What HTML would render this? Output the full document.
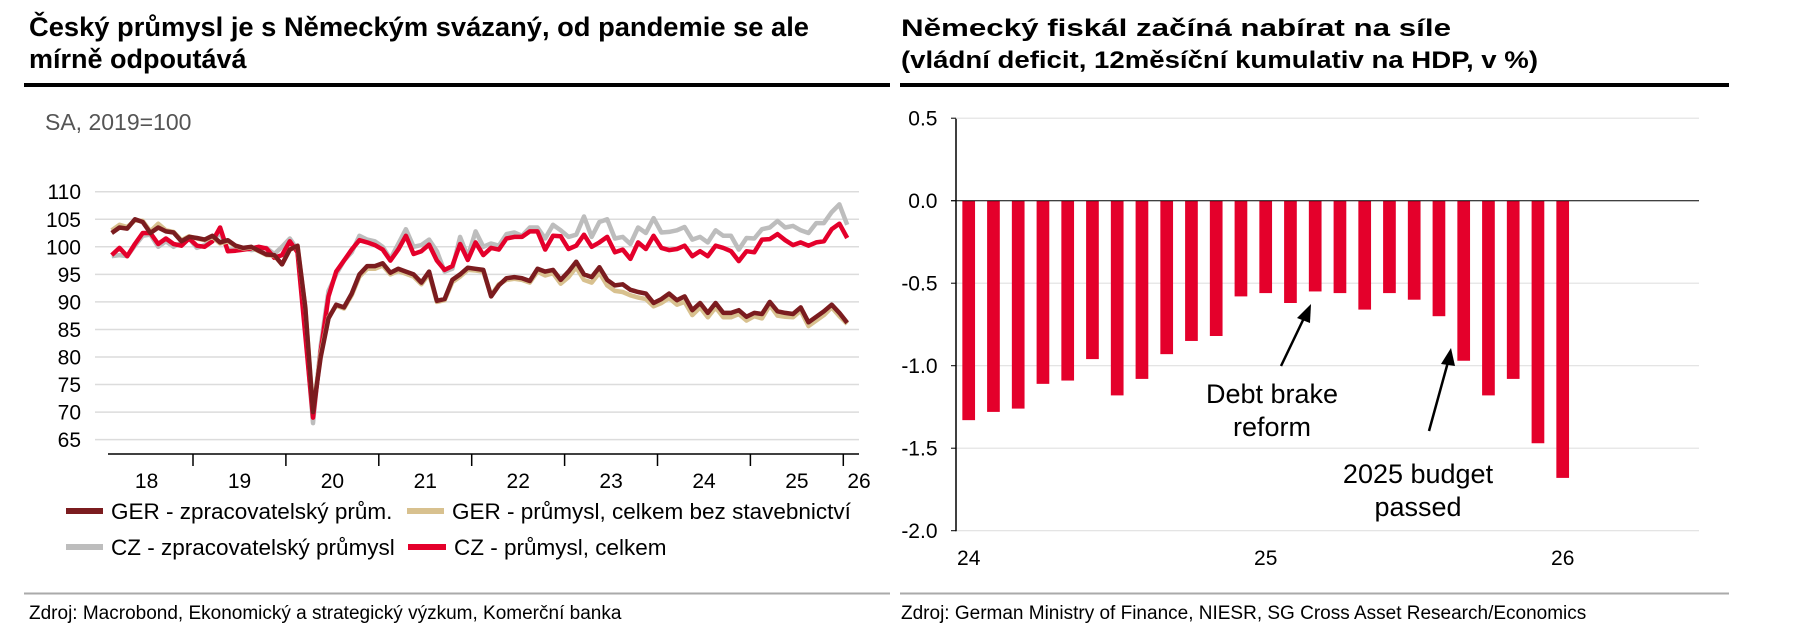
<!DOCTYPE html>
<html><head><meta charset="utf-8"><style>
body{margin:0;background:#fff;}
svg{display:block;font-family:"Liberation Sans",Arial,sans-serif;}
</style></head><body>
<svg id="s" width="1800" height="639" viewBox="0 0 1800 639" xmlns="http://www.w3.org/2000/svg">
<text x="29" y="36" font-size="27" font-weight="bold" fill="#000" textLength="780" lengthAdjust="spacingAndGlyphs">Český průmysl je s Německým svázaný, od pandemie se ale</text>
<text x="29" y="68" font-size="27" font-weight="bold" fill="#000">mírně odpoutává</text>
<rect x="24" y="83" width="866" height="4" fill="#000"/>
<text x="45" y="130" font-size="23" fill="#555">SA, 2019=100</text>
<g id="lgrid"></g>
<g id="lyt"></g>
<line x1="108" y1="454" x2="859" y2="454" stroke="#000" stroke-width="1.5"/>
<g id="lxt"></g>
<g id="llines"></g>
<g>
<g><rect x="66" y="508" width="37" height="6" fill="#7b1c1f"/><text x="111" y="519" font-size="22.5" fill="#000">GER - zpracovatelský prům.</text></g>
<g><rect x="407" y="508" width="37" height="6" fill="#d8c18f"/><text x="452" y="519" font-size="22.5" fill="#000">GER - průmysl, celkem bez stavebnictví</text></g>
<g><rect x="66" y="544" width="37" height="6" fill="#bdbdbd"/><text x="111" y="555" font-size="22.5" fill="#000">CZ - zpracovatelský průmysl</text></g>
<g><rect x="408" y="544" width="38" height="6" fill="#e4002b"/><text x="454" y="555" font-size="22.5" fill="#000">CZ - průmysl, celkem</text></g>
</g>
<rect x="24" y="592.5" width="866" height="2" fill="#aaa"/>
<text x="29" y="619" font-size="19" fill="#000">Zdroj: Macrobond, Ekonomický a strategický výzkum, Komerční banka</text>

<text x="901" y="36" font-size="24" font-weight="bold" fill="#000" textLength="550" lengthAdjust="spacingAndGlyphs">Německý fiskál začíná nabírat na síle</text>
<text x="901" y="68" font-size="24" font-weight="bold" fill="#000" textLength="637" lengthAdjust="spacingAndGlyphs">(vládní deficit, 12měsíční kumulativ na HDP, v %)</text>
<rect x="900" y="83" width="829" height="4" fill="#000"/>
<g id="rgrid"></g>
<g id="rbars"></g>
<line x1="951" y1="200.7" x2="1699" y2="200.7" stroke="#000" stroke-width="1"/>
<line x1="956" y1="118.8" x2="956" y2="531.3" stroke="#000" stroke-width="1.5"/>
<g id="rxt"></g>
<g>
<text x="1272" y="403" font-size="27" text-anchor="middle" fill="#000">Debt brake</text>
<text x="1272" y="436" font-size="27" text-anchor="middle" fill="#000">reform</text>
<line x1="1281" y1="366" x2="1304" y2="318" stroke="#000" stroke-width="2.5"/>
<polygon points="1311,304 1297,318 1310,323" fill="#000"/>
</g>
<g>
<text x="1418" y="483" font-size="27" text-anchor="middle" fill="#000">2025 budget</text>
<text x="1418" y="516" font-size="27" text-anchor="middle" fill="#000">passed</text>
<line x1="1429" y1="431" x2="1448" y2="362" stroke="#000" stroke-width="2.5"/>
<polygon points="1451,348 1441,364 1455,366" fill="#000"/>
</g>
<rect x="900" y="592.5" width="829" height="2" fill="#aaa"/>
<text x="901" y="619" font-size="19" fill="#000">Zdroj: German Ministry of Finance, NIESR, SG Cross Asset Research/Economics</text>
</svg>
<script>
// Left chart data: monthly Feb 2018 .. Jan 2026
const yTicksL = [110,105,100,95,90,85,80,75,70,65];
const yearLabels = ["18","19","20","21","22","23","24","25","26"];
const gerManuf = [102.5,103.5,103.3,105,104.5,102.5,103.5,102.8,102.6,101,101.8,
101.6,101.3,102,100.8,101.2,100.2,99.8,100,99.3,98.6,98.5,96.8,
99.5,100.2,89,70,80,87,89.5,89,91.5,95,96.5,96.5,
97,95.3,96,95.5,95,93.5,95.5,90.2,90.5,94,95,96.2,
96,95.8,91,93,94.3,94.5,94.3,93.8,96,95.5,95.8,94,
95.5,97.3,95,94.5,96.3,94,93,93.2,92.2,91.8,91.5,89.8,
90.5,91.5,90.3,91,88.5,89.8,88,89.8,88,88,88.5,87.3,
88,87.8,90,88.3,88,87.8,89,86.3,87.3,88.3,89.5,88,
86.2];
const gerTotal = [103,104,103.6,104.8,104.7,102.8,104.2,103,102.7,101.2,101.9,
101.5,101.2,101.8,100.6,101,100.1,99.7,99.9,99.2,98.5,98.4,96.8,
99.5,100.1,89,70.5,80.5,87.2,89.3,88.8,91.2,94.6,96,96,
96.6,95,95.6,95.1,94.6,93.2,95.1,90,90.3,93.6,94.6,95.8,
95.7,95.5,91.2,93.2,94,94.2,94,93.5,95.5,94.8,95.2,93.3,
94.5,96.3,94,93.5,95.3,93,92,91.8,91.2,90.8,90.5,89.2,
89.8,90.7,89.5,90,87.6,89,87.2,89,87.2,87.2,87.8,86.6,
87.4,87,89.4,87.5,87.3,87.2,88.4,85.6,86.6,87.6,89,87.4,
86];
const czManuf = [98.3,98.5,98.3,100.2,102,102.2,100,101,100,100.7,101.5,
99.8,100.3,101.2,102.5,99.5,99.5,99.8,99.4,99.6,99.8,98.7,100,
101.5,99.5,85,68,82,92,95,97.5,99,102,101.3,101,
100,97.8,100.5,103.2,100,100.3,101.3,99.2,95.5,96,101.8,98.2,
102.8,100,100.6,100.2,102.3,102.6,102,103.5,103.5,101.5,104,103,
101.8,102.2,105.5,101.8,104.5,105,101.5,101.8,100.5,103.5,102.5,105.2,
102.6,102.7,103,103.6,101.3,101.8,100.8,103,102,102,99.5,101.6,
101.5,103.2,103.5,104.7,103.5,103.8,103,102.5,104.3,104.3,106.3,107.7,
104];
const czTotal = [98.5,99.8,98.3,100.5,102.5,102.5,100.5,101.5,100.5,100.2,101.5,
100.2,100,101,103.5,99.2,99.3,99.5,99.7,100,99.7,98,98.5,
101,99,84,69,81,91,95.5,97.5,99.5,101.2,100.8,100.3,
99.5,97.5,99.5,102,98.7,99.2,100.4,97.5,95.8,96.5,100.5,97.6,
100.8,98.5,99.8,99.5,101.5,101.8,101.8,102.8,102.8,99.5,102,101.9,
99.6,100.2,102.2,100,100.8,101.8,99,99.5,97.8,100.8,99.6,102,
99.8,99.4,99.6,100.2,98.3,99.2,98.3,100.2,99.8,99.2,97.4,99.2,
99,101.3,101.4,102.3,101.2,100.3,100.8,100.2,100.8,101,103.2,104.2,
101.6];
// Right chart data: Jan 2024 .. Jan 2026
const deficit = [-1.33,-1.28,-1.26,-1.11,-1.09,-0.96,-1.18,-1.08,-0.93,-0.85,-0.82,-0.58,-0.56,-0.62,-0.55,-0.56,-0.66,-0.56,-0.60,-0.70,-0.97,-1.18,-1.08,-1.47,-1.68];
const yTicksR = [0.5,0.0,-0.5,-1.0,-1.5,-2.0];
const xLabelsR = ["24","25","26"];

const NS="http://www.w3.org/2000/svg";
function mk(tag,attrs,parent){const e=document.createElementNS(NS,tag);for(const k in attrs)e.setAttribute(k,attrs[k]);parent.appendChild(e);return e;}
const yL=v=>191.7+(110-v)*27.55/5;
const xL=i=>100.1+(i+1+0.5)*92.9/12; // i=0 -> Feb 2018
const gl=document.getElementById('lgrid'), lyt=document.getElementById('lyt'), lxt=document.getElementById('lxt'), ll=document.getElementById('llines');
yTicksL.forEach(v=>{
  const l=mk('line',{x1:95,x2:859,y1:yL(v),y2:yL(v),stroke:'#dcdcdc','stroke-width':1.5},gl);
  
  
  const t=mk('text',{x:81,y:yL(v)+7.5,'font-size':21,'text-anchor':'end',fill:'#000'},lyt);
  t.textContent=v;
  
  
});
yearLabels.forEach((lab,k)=>{
  const x0=100.1+k*92.9;
  if(k>0&&k<9){const tk=mk('line',{x1:x0,x2:x0,y1:454,y2:466,stroke:'#000','stroke-width':1.5},lxt);
    
    }
  const cx=k<8?x0+46.5:859;
  const t=mk('text',{x:cx,y:488,'font-size':21,'text-anchor':'middle',fill:'#000'},lxt);
  t.textContent=lab;
  
  
});
[[czManuf,'#bdbdbd','line-cz-manuf'],[czTotal,'#e4002b','line-cz-total'],[gerTotal,'#d8c18f','line-ger-total'],[gerManuf,'#7b1c1f','line-ger-manuf']].forEach(([d,c,n])=>{
  const p=mk('polyline',{points:d.map((v,i)=>xL(i).toFixed(1)+','+yL(v).toFixed(1)).join(' '),fill:'none',stroke:c,'stroke-width':4.5,'stroke-linejoin':'round'},ll);
  
  
});
const yR=v=>200.7-v*165;
const xR=i=>968.7+i*24.75;
const rg=document.getElementById('rgrid'), rb=document.getElementById('rbars'), rxt=document.getElementById('rxt');
yTicksR.forEach(v=>{
  if(v!==0){const l=mk('line',{x1:956,x2:1699,y1:yR(v),y2:yR(v),stroke:'#e0e0e0','stroke-width':1.2},rg);
    
    }
  const tk=mk('line',{x1:951,x2:956,y1:yR(v),y2:yR(v),stroke:'#000','stroke-width':1},rg);
  
  
  const t=mk('text',{x:937.5,y:yR(v)+7.5,'font-size':21,'text-anchor':'end',fill:'#000'},rg);
  t.textContent=v.toFixed(1);
  
  
});
deficit.forEach((v,i)=>{
  const y0=yR(0),y1=yR(v);
  const r=mk('rect',{x:xR(i)-6.35,y:Math.min(y0,y1),width:12.7,height:Math.abs(y1-y0),fill:'#e4002b'},rb);
  
  
});
xLabelsR.forEach((lab,k)=>{
  const t=mk('text',{x:xR(k*12),y:565,'font-size':21,'text-anchor':'middle',fill:'#000'},rxt);
  t.textContent=lab;
  
  
});
</script>
</body></html>
